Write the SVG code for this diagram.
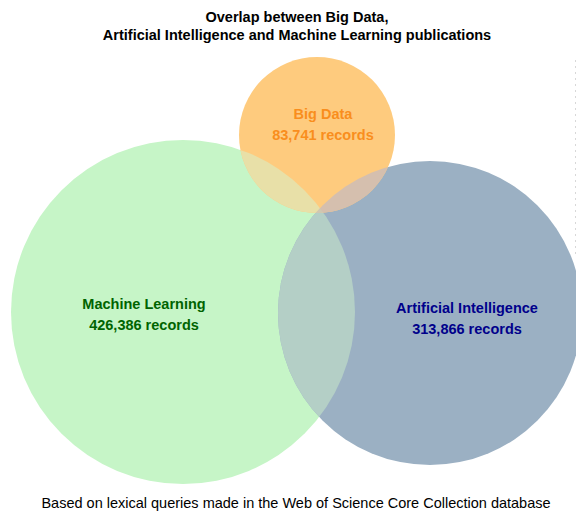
<svg xmlns="http://www.w3.org/2000/svg" width="576" height="512" viewBox="0 0 576 512">
<style>
text{font-family:"Liberation Sans",Arial,sans-serif;text-anchor:middle}
.t{font-size:14.5px;font-weight:bold;fill:#000}
.lbl{font-size:14.5px;font-weight:bold}
.foot{font-size:14.5px;fill:#000}
</style>
<defs>
<clipPath id="cML"><circle cx="183" cy="312" r="172"/></clipPath>
<clipPath id="cAI"><circle cx="430" cy="313" r="152"/></clipPath>
<clipPath id="cBD"><circle cx="317" cy="135" r="78"/></clipPath>
</defs>
<rect width="576" height="512" fill="#fff"/>
<text class="t" x="297" y="22">Overlap between Big Data,</text>
<text class="t" x="297" y="40">Artificial Intelligence and Machine Learning publications</text>
<g id="ml">
<circle cx="183" cy="312" r="172" fill="#c6f5c7"/>
<text class="lbl" x="144" y="309" fill="#006400">Machine Learning</text>
<text class="lbl" x="144" y="330" fill="#006400">426,386 records</text>
</g>
<g id="ai">
<circle cx="430" cy="313" r="152" fill="#9bb0c3"/>
<text class="lbl" x="467" y="313" fill="#00008b">Artificial Intelligence</text>
<text class="lbl" x="467" y="334" fill="#00008b">313,866 records</text>
</g>
<g id="bd">
<circle cx="317" cy="135" r="78" fill="#fecb7e"/>
<text class="lbl" x="323" y="119" fill="#f98e1d">Big Data</text>
<text class="lbl" x="323" y="140" fill="#f98e1d">83,741 records</text>
</g>
<g id="overlaps">
<circle cx="430" cy="313" r="152" fill="#b4cfc6" clip-path="url(#cML)"/>
<circle cx="317" cy="135" r="78" fill="#e8e0a8" clip-path="url(#cML)"/>
<circle cx="317" cy="135" r="78" fill="#d5bfae" clip-path="url(#cAI)"/>
<g clip-path="url(#cML)"><circle cx="317" cy="135" r="78" fill="#cfc8b2" clip-path="url(#cAI)"/></g>
</g>
<line x1="575.5" y1="60" x2="575.5" y2="255" stroke="#d8d8d8" stroke-width="1" stroke-dasharray="2,4"/>
<text class="foot" x="296" y="508">Based on lexical queries made in the Web of Science Core Collection database</text>
</svg>
